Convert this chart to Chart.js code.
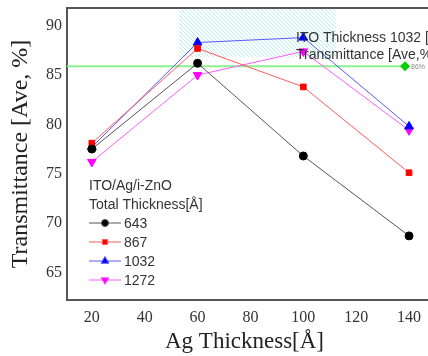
<!DOCTYPE html>
<html>
<head>
<meta charset="utf-8">
<script src="https://cdn.jsdelivr.net/npm/chart.js@4.4.0/dist/chart.umd.min.js"></script>
<style>
  html, body { margin: 0; padding: 0; background: #fff; }
  #wrap { width: 428px; height: 356px; position: relative; }
</style>
</head>
<body>
<div id="wrap"><canvas id="chart"></canvas></div>
<script>
// Ag thickness [Å] on the x axis
const agThickness = [20, 60, 100, 140];
// total thickness series names
const seriesNames = ["643", "867", "1032", "1272"];
const t643 = [77.5, 86.2, 76.8, 68.7];
const t867 = [78.1, 87.7, 83.8, 75.1];
const t1032 = [77.7, 88.3, 88.8, 79.8];
const t1272 = [76.2, 85.0, 87.4, 79.4];
const yTicks = [65, 70, 75, 80, 85, 90];
const xTicks = [20, 40, 60, 80, 100, 120, 140];
// 86% reference level and where it ends
const refLevel = [85.9];
const refEndX = [138.5];
// highlighted window around the ITO 1032 curve
const hatchX = [53, 112.5];
const hatchYFrom = [86.8];

const lineColors = ["#555555", "#ff5a5a", "#5a5aff", "#ff5aff"];
const markColors = ["#000000", "#ff0000", "#0000ff", "#ff00ff"];
const markStyles = ["circle", "rect", "triangle", "triangle"];
const markRot = [0, 0, 0, 180];
const allSeries = [t643, t867, t1032, t1272];

const datasets = allSeries.map((vals, i) => ({
  label: seriesNames[i],
  data: vals.map((v, j) => ({ x: agThickness[j], y: v })),
  borderColor: lineColors[i],
  borderWidth: 1,
  backgroundColor: markColors[i],
  pointBackgroundColor: markColors[i],
  pointBorderColor: markColors[i],
  pointStyle: markStyles[i],
  pointRotation: markRot[i],
  pointRadius: i >= 2 ? 5 : 4,
  tension: 0,
}));

// small tile for the cyan hatching
function hatchTile() {
  const c = document.createElement("canvas");
  c.width = 4;
  c.height = 4;
  const g = c.getContext("2d");
  g.fillStyle = "#ffffff";
  g.fillRect(0, 0, 4, 4);
  g.fillStyle = "#b4f0f4";
  for (let i = 0; i < 4; i++) g.fillRect(i, i, 1, 1);
  return c;
}

// draws the hatched box, the 86% line, frame lines, legend and note
const extras = {
  id: "extras",
  beforeDatasetsDraw(chart) {
    const { ctx, chartArea: a, scales: { x, y } } = chart;
    ctx.save();
    const hx0 = x.getPixelForValue(hatchX[0]);
    const hx1 = x.getPixelForValue(hatchX[1]);
    const hy1 = y.getPixelForValue(hatchYFrom[0]);
    ctx.fillStyle = ctx.createPattern(hatchTile(), "repeat");
    ctx.fillRect(Math.round(hx0), a.top, Math.round(hx1 - hx0), Math.round(hy1 - a.top));

    // 86% line
    const gy = y.getPixelForValue(refLevel[0]);
    const gx = x.getPixelForValue(refEndX[0]);
    ctx.strokeStyle = "#8cf08c";
    ctx.lineWidth = 2;
    ctx.beginPath();
    ctx.moveTo(a.left, gy);
    ctx.lineTo(gx, gy);
    ctx.stroke();
    ctx.fillStyle = "#00d000";
    ctx.beginPath();
    ctx.moveTo(gx, gy - 5);
    ctx.lineTo(gx + 5, gy);
    ctx.lineTo(gx, gy + 5);
    ctx.lineTo(gx - 5, gy);
    ctx.closePath();
    ctx.fill();
    ctx.fillStyle = "#888";
    ctx.font = "7px 'Liberation Sans'";
    ctx.textBaseline = "middle";
    ctx.fillText("86%", gx + 6, gy + 1);
    ctx.restore();
  },
  afterDatasetsDraw(chart) {
    const { ctx, chartArea: a } = chart;
    ctx.save();
    // top frame line, and the x axis line carried to the edge
    ctx.strokeStyle = "#555";
    ctx.lineWidth = 2;
    ctx.beginPath();
    ctx.moveTo(a.left - 1, a.top);
    ctx.lineTo(chart.width, a.top);
    ctx.moveTo(a.right - 1, a.bottom);
    ctx.lineTo(chart.width, a.bottom);
    ctx.stroke();

    // note
    ctx.fillStyle = "#333";
    ctx.font = "14px 'Liberation Sans'";
    ctx.textBaseline = "middle";
    ctx.fillText("ITO Thickness 1032 [Å]", 296, 38);
    ctx.fillText("Transmittance [Ave,%]", 296, 55);

    // legend
    const lx = 89;
    ctx.fillText("ITO/Ag/i-ZnO", lx, 186);
    ctx.fillText("Total Thickness[Å]", lx, 205);
    chart.data.datasets.forEach((ds, i) => {
      const ly = 223 + i * 19;
      ctx.strokeStyle = ds.borderColor;
      ctx.lineWidth = 1;
      ctx.beginPath();
      ctx.moveTo(lx, ly);
      ctx.lineTo(lx + 32, ly);
      ctx.stroke();
      ctx.fillStyle = ds.pointBackgroundColor;
      Chart.helpers.drawPoint(ctx, {
        pointStyle: ds.pointStyle,
        rotation: ds.pointRotation,
        radius: ds.pointRadius - 0.5,
        borderWidth: 1,
      }, lx + 16, ly);
      ctx.fillStyle = "#333";
      ctx.fillText(ds.label, lx + 35, ly + 1);
    });
    ctx.restore();
  },
};

new Chart(document.getElementById("chart"), {
  type: "line",
  data: { datasets },
  plugins: [extras],
  options: {
    responsive: true,
    maintainAspectRatio: false,
    animation: false,
    layout: { padding: { top: 8, right: 0, left: 0, bottom: 0 } },
    plugins: { legend: { display: false }, tooltip: { enabled: false } },
    scales: {
      x: {
        type: "linear",
        min: 10.6,
        max: 144.9,
        grid: { display: false, drawTicks: false },
        border: { display: true, color: "#555", width: 2 },
        afterBuildTicks: (s) => { s.ticks = xTicks.map((v) => ({ value: v })); },
        afterFit: (s) => { s.height = 56; s.paddingLeft = 0; s.paddingRight = 0; },
        ticks: {
          padding: 8,
          color: "#333",
          font: { family: "'Liberation Serif'", size: 16 },
        },
        title: {
          display: true,
          text: "Ag Thickness[Å]",
          color: "#222",
          font: { family: "'Liberation Serif'", size: 23 },
          padding: { top: 0, bottom: 0 },
        },
      },
      y: {
        min: 62.2,
        max: 91.8,
        grid: { display: false, drawTicks: false },
        border: { display: true, color: "#555", width: 2 },
        afterBuildTicks: (s) => { s.ticks = yTicks.map((v) => ({ value: v })); },
        afterFit: (s) => { s.width = 67; s.paddingTop = 0; s.paddingBottom = 0; },
        ticks: {
          padding: 5,
          color: "#333",
          font: { family: "'Liberation Serif'", size: 16 },
        },
        title: {
          display: true,
          text: "Transmittance [Ave, %]",
          color: "#222",
          font: { family: "'Liberation Serif'", size: 24 },
          padding: { top: 6, bottom: 0 },
        },
      },
    },
  },
});
</script>
</body>
</html>
